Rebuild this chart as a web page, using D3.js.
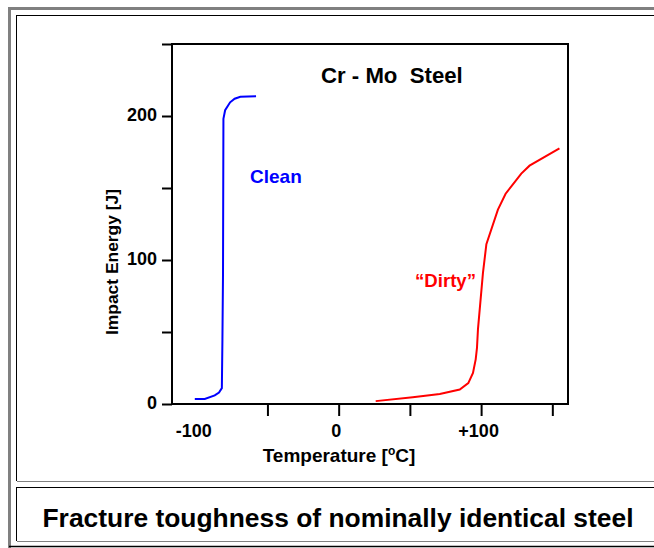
<!DOCTYPE html>
<html>
<head>
<meta charset="utf-8">
<script src="https://cdn.jsdelivr.net/npm/d3@7"></script>
<style>
  html, body { margin: 0; padding: 0; background: #fff; }
  svg { display: block; }
  text { font-family: "Liberation Sans", Arial, sans-serif; font-weight: bold; }
</style>
</head>
<body>
<script>
// ---- Data ----
const cleanTemp   = [-101, -94, -87, -84, -82, -81.6, -81.2, -80.9, -79.7, -76.2, -73, -69, -58];
const cleanEnergy = [3.5, 3.5, 6, 8, 11, 45, 89, 198, 204, 209.5, 212, 213.3, 213.7];
const dirtyTemp   = [26, 52, 71, 85, 91, 94.3, 96.2, 97.1, 97.8, 101.3, 103.7, 111.8, 117.2, 128.2, 134, 155];
const dirtyEnergy = [2, 4.7, 7, 10, 14.5, 21.5, 31, 39, 52, 91, 111, 135, 146, 160, 165.5, 177.5];
const xTickValues = [-50, 0, 50, 100, 150];
const xLabelValues = [-100, 0, 100];
const xLabelTexts  = ["-100", "0", "+100"];
const yTickValues = [0, 50, 100, 150, 200, 250];
const yLabelValues = [0, 100, 200];
const yLabelTexts  = ["0", "100", "200"];

const W = 654, H = 548;
const svg = d3.select("body").append("svg").attr("width", W).attr("height", H);

// ---- Page frames (table-like borders) ----
svg.append("rect").attr("x", 8).attr("y", 7).attr("width", 3).attr("height", 541).attr("fill", "#808080");
svg.append("rect").attr("x", 8).attr("y", 7).attr("width", W - 8).attr("height", 3).attr("fill", "#808080");
svg.append("line").attr("x1", 9).attr("x2", W).attr("y1", 546.5).attr("y2", 546.5).attr("stroke", "#000").attr("stroke-width", 1.5);
// cell 1
svg.append("line").attr("x1", 16).attr("x2", W).attr("y1", 15.5).attr("y2", 15.5).attr("stroke", "#000");
svg.append("line").attr("x1", 16.5).attr("x2", 16.5).attr("y1", 15).attr("y2", 481).attr("stroke", "#000");
svg.append("line").attr("x1", 17).attr("x2", W).attr("y1", 481.5).attr("y2", 481.5).attr("stroke", "#808080");
// cell 2
svg.append("line").attr("x1", 16).attr("x2", W).attr("y1", 487.5).attr("y2", 487.5).attr("stroke", "#000");
svg.append("line").attr("x1", 16.5).attr("x2", 16.5).attr("y1", 487).attr("y2", 541).attr("stroke", "#000");
svg.append("line").attr("x1", 17).attr("x2", W).attr("y1", 541.5).attr("y2", 541.5).attr("stroke", "#808080");

// ---- Scales ----
const x = d3.scaleLinear().domain([-117, 161]).range([172, 568]);
const y = d3.scaleLinear().domain([0, 250]).range([404, 44]);

const FONT = "Liberation Sans, Arial, sans-serif";

// ---- Axes ----
const xTicks = svg.append("g").attr("transform", `translate(0,${y(0)})`)
  .call(d3.axisBottom(x).tickValues(xTickValues).tickSize(12).tickFormat(""));
xTicks.select(".domain").remove();
xTicks.selectAll("line").attr("stroke", "#000").attr("stroke-width", 2);

const xLabels = svg.append("g").attr("transform", `translate(0,${y(0)})`)
  .call(d3.axisBottom(x).tickValues(xLabelValues).tickSize(0).tickPadding(20)
    .tickFormat((d, i) => xLabelTexts[i]));
xLabels.select(".domain").remove();
xLabels.selectAll("text").attr("font-size", 18).attr("font-family", FONT)
  .attr("font-weight", "bold").attr("fill", "#000").attr("dx", -3);

const yTicks = svg.append("g").attr("transform", `translate(${x.range()[0]},0)`)
  .call(d3.axisLeft(y).tickValues(yTickValues).tickSize(10).tickPadding(5)
    .tickFormat(d => { const i = yLabelValues.indexOf(d); return i >= 0 ? yLabelTexts[i] : ""; }));
yTicks.select(".domain").remove();
yTicks.selectAll("line").attr("stroke", "#000").attr("stroke-width", 2);
yTicks.selectAll("text").attr("font-size", 18).attr("font-family", FONT)
  .attr("font-weight", "bold").attr("fill", "#000").attr("dy", "0.25em");

// plot frame
svg.append("rect")
  .attr("x", x.range()[0]).attr("y", y.range()[1])
  .attr("width", x.range()[1] - x.range()[0]).attr("height", y.range()[0] - y.range()[1])
  .attr("fill", "none").attr("stroke", "#000").attr("stroke-width", 2);

// ---- Lines ----
const line = d3.line().x(d => x(d[0])).y(d => y(d[1]));
svg.append("path").datum(cleanTemp.map((t, i) => [t, cleanEnergy[i]]))
  .attr("d", line).attr("fill", "none").attr("stroke", "#0000ff").attr("stroke-width", 2);
svg.append("path").datum(dirtyTemp.map((t, i) => [t, dirtyEnergy[i]]))
  .attr("d", line).attr("fill", "none").attr("stroke", "#ff0000").attr("stroke-width", 2);

// ---- Texts ----
svg.append("text").attr("x", 321).attr("y", 82.5).attr("font-size", 22.2)
  .style("white-space", "pre").attr("fill", "#000").text("Cr - Mo  Steel");
svg.append("text").attr("x", 250).attr("y", 183).attr("font-size", 19)
  .attr("fill", "#0000ff").text("Clean");
svg.append("text").attr("x", 415).attr("y", 286.5).attr("font-size", 18.6)
  .attr("fill", "#ff0000").text("\u201CDirty\u201D");

// axis titles
const xt = svg.append("text").attr("x", 339).attr("y", 462).attr("font-size", 19)
  .attr("text-anchor", "middle").attr("fill", "#000");
xt.append("tspan").text("Temperature [");
xt.append("tspan").attr("font-size", 12).attr("dy", -7).text("o");
xt.append("tspan").attr("dy", 7).text("C]");

svg.append("text").attr("transform", "translate(118,262) rotate(-90)")
  .attr("text-anchor", "middle").attr("font-size", 17.4).attr("fill", "#000")
  .text("Impact Energy [J]");

// caption
svg.append("text").attr("x", 338).attr("y", 527).attr("font-size", 26.4)
  .attr("text-anchor", "middle").attr("fill", "#000")
  .text("Fracture toughness of nominally identical steel");
</script>
</body>
</html>
